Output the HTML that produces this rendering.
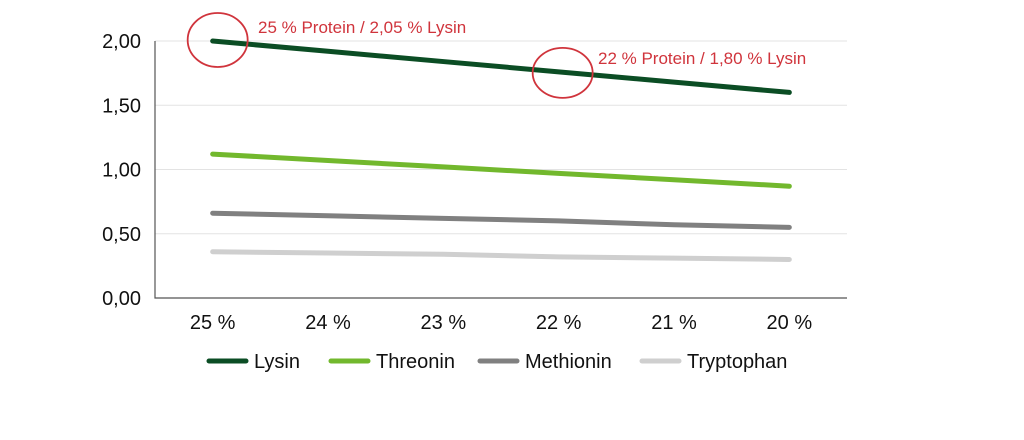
<!DOCTYPE html>
<html><head><meta charset="utf-8"><style>
body{margin:0;background:#fff;}
svg text{font-family:"Liberation Sans",sans-serif;}
</style></head><body>
<svg id="chart" width="1024" height="435" viewBox="0 0 1024 435" xmlns="http://www.w3.org/2000/svg"></svg>
<script>
const categories = ["25 %","24 %","23 %","22 %","21 %","20 %"];
const yTicks = [0,0.5,1,1.5,2];
const yTickLabels = ["0,00","0,50","1,00","1,50","2,00"];
const lysin = [2.00,1.92,1.84,1.76,1.68,1.60];
const threonin = [1.12,1.07,1.02,0.97,0.92,0.87];
const methionin = [0.66,0.64,0.62,0.60,0.57,0.55];
const tryptophan = [0.36,0.35,0.34,0.32,0.31,0.30];
const seriesNames = ["Lysin","Threonin","Methionin","Tryptophan"];

const svg = document.getElementById('chart');
const NS = 'http://www.w3.org/2000/svg';
const L=155, R=847, T=41, B=298;
const band=(R-L)/categories.length;
const x=i=>L+band*(i+0.5);
const y=v=>B-(v/2)*(B-T);
function mk(tag,attrs){const e=document.createElementNS(NS,tag);for(const k in attrs)e.setAttribute(k,attrs[k]);svg.appendChild(e);return e;}

yTicks.forEach((t,i)=>{
  if(t>0){const g=mk('line',{x1:L,x2:R,y1:y(t),y2:y(t),stroke:'#e3e3e3','stroke-width':1});
  
  }
  const tx=mk('text',{x:141,y:y(t)+7,'text-anchor':'end','font-size':20,fill:'#111'});
  tx.textContent=yTickLabels[i];
  
  
});
const ax=mk('path',{d:`M${L} ${T} V${B} H${R}`,fill:'none',stroke:'#555','stroke-width':1.2});


categories.forEach((c,i)=>{
  const tx=mk('text',{x:x(i),y:329,'text-anchor':'middle','font-size':20,fill:'#111'});
  tx.textContent=c;
  
  
});
const data=[lysin,threonin,methionin,tryptophan];
const colors=['#0b4d24','#72b82d','#808080','#cfcfcf'];
data.forEach((s,k)=>{
  const p=mk('polyline',{points:s.map((v,i)=>x(i)+','+y(v)).join(' '),fill:'none',stroke:colors[k],'stroke-width':5,'stroke-linecap':'round','stroke-linejoin':'round'});
  
  
});
const c1=mk('ellipse',{cx:x(0)+5,cy:y(lysin[0])-1,rx:30,ry:27,fill:'none',stroke:'#d0343c','stroke-width':1.8});


const c2=mk('ellipse',{cx:x(3)+4,cy:y(lysin[3])+1,rx:30,ry:25,fill:'none',stroke:'#d0343c','stroke-width':1.8});


const a1=mk('text',{x:258,y:33,'font-size':17,fill:'#d0343c'});
a1.textContent='25 % Protein / 2,05 % Lysin';


const a2=mk('text',{x:598,y:64,'font-size':17,fill:'#d0343c'});
a2.textContent='22 % Protein / 1,80 % Lysin';


const lx=[209,331,480,642];
seriesNames.forEach((n,k)=>{
  const l=mk('line',{x1:lx[k],x2:lx[k]+37,y1:361,y2:361,stroke:colors[k],'stroke-width':5,'stroke-linecap':'round'});
  
  
  const t=mk('text',{x:lx[k]+45,y:368,'font-size':20,fill:'#111'});
  t.textContent=n;
  
  
});
</script>
</body></html>
